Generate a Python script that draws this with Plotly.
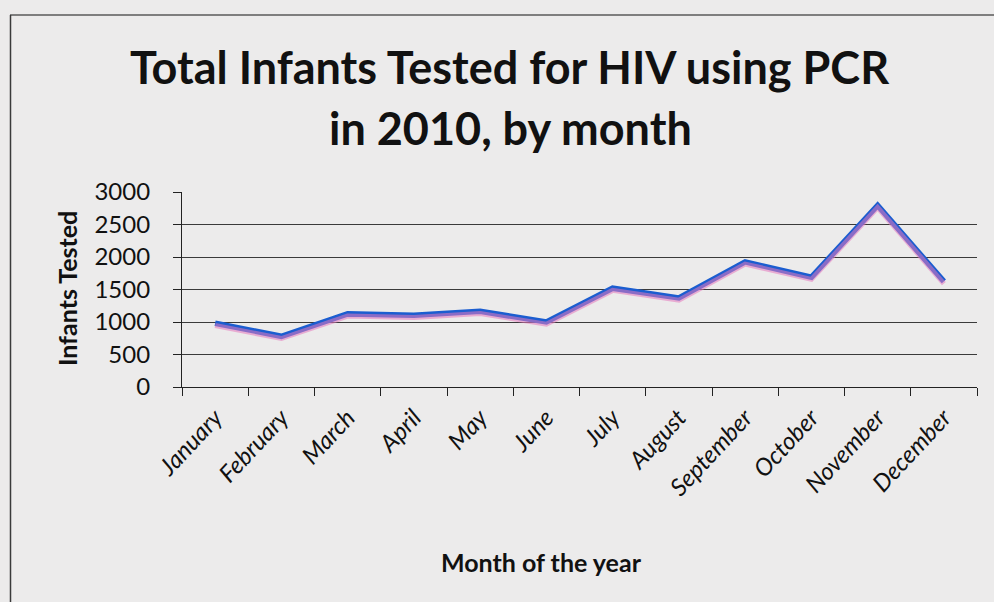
import plotly.graph_objects as go

# Monthly totals of infants tested for HIV by PCR, 2010
months = ["January", "February", "March", "April", "May", "June",
          "July", "August", "September", "October", "November", "December"]
infants_tested = [980, 780, 1125, 1105, 1165, 1000, 1520, 1370, 1925, 1690, 2795, 1625]

y_ticks = [0, 500, 1000, 1500, 2000, 2500, 3000]

W, H = 994, 602
L, R, T, B = 182, 17, 192, 215
plot_w = W - L - R
plot_h = H - T - B

def px_x(px):
    return (px - L) / plot_w

def px_y(py):
    return (H - B - py) / plot_h

font_main = "Lato, 'Open Sans', sans-serif"
bg = "#ecebeb"
line_blue = "#1b5dd0"

# soft magenta echo under the line, offset a couple of pixels down
shift = 2.2 / plot_h * 3000

fig = go.Figure()
fig.add_trace(go.Scatter(
    x=months, y=infants_tested, mode="lines", yaxis="y2",
    line=dict(color="rgba(230,120,190,0.55)", width=5),
    hoverinfo="skip", showlegend=False,
))
fig.add_trace(go.Scatter(
    x=months, y=infants_tested, mode="lines",
    line=dict(color=line_blue, width=5.5),
    showlegend=False,
))

fig.update_layout(
    width=W, height=H,
    margin=dict(l=L, r=R, t=T, b=B),
    paper_bgcolor=bg, plot_bgcolor=bg,
    font=dict(family=font_main, color="#111111"),
    xaxis=dict(
        type="category", range=[-0.5, 11.5],
        tickson="boundaries", ticks="outside", ticklen=8, tickwidth=1.2,
        tickcolor="#222222",
        showline=True, linecolor="#222222", linewidth=1.2,
        showgrid=False, zeroline=False,
        tickangle=-47,
        ticklabelstandoff=6,
        tickfont=dict(family=font_main, size=24, style="italic", color="#111111"),
    ),
    yaxis=dict(
        range=[0, 3000], tickvals=y_ticks,
        ticks="outside", ticklen=8, tickwidth=1.2, tickcolor="#222222",
        showline=True, linecolor="#222222", linewidth=1.2,
        showgrid=True, gridcolor="#3a3a3a", gridwidth=1,
        zeroline=False,
        ticklabelstandoff=18,
        tickfont=dict(family=font_main, size=24, color="#111111"),
    ),
    yaxis2=dict(
        overlaying="y", range=[shift, 3000 + shift], visible=False,
    ),
    shapes=[
        dict(type="line", xref="paper", yref="paper",
             x0=px_x(10), x1=px_x(W + 5), y0=px_y(15), y1=px_y(15),
             line=dict(color="#5a5a5a", width=1.5)),
        dict(type="line", xref="paper", yref="paper",
             x0=px_x(10.5), x1=px_x(10.5), y0=px_y(15), y1=px_y(H + 5),
             line=dict(color="#3a3a3a", width=1.5)),
    ],
    annotations=[
        dict(text="<b>Total Infants Tested for HIV using PCR</b>",
             xref="paper", yref="paper", x=px_x(510), y=px_y(67),
             xanchor="center", yanchor="middle", showarrow=False,
             font=dict(family=font_main, size=45, color="#111111")),
        dict(text="<b>in 2010, by month</b>",
             xref="paper", yref="paper", x=px_x(510), y=px_y(128),
             xanchor="center", yanchor="middle", showarrow=False,
             font=dict(family=font_main, size=45, color="#111111")),
        dict(text="<b>Infants Tested</b>",
             xref="paper", yref="paper", x=px_x(67), y=px_y(289),
             xanchor="center", yanchor="middle", showarrow=False, textangle=-90,
             font=dict(family=font_main, size=25, color="#111111")),
        dict(text="<b>Month of the year</b>",
             xref="paper", yref="paper", x=px_x(541), y=px_y(562),
             xanchor="center", yanchor="middle", showarrow=False,
             font=dict(family=font_main, size=25, color="#111111")),
    ],
)

fig.write_html("out.html")
